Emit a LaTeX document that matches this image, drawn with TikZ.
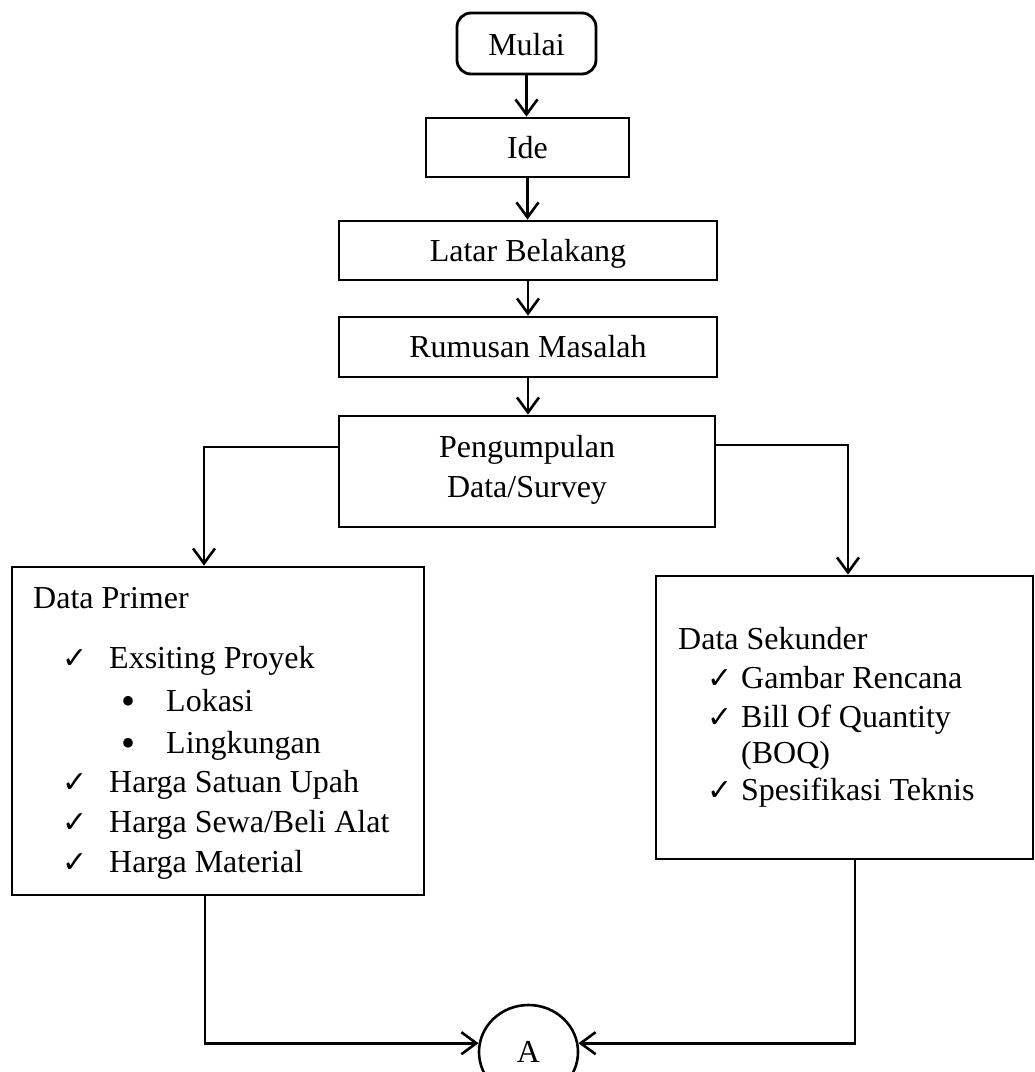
\documentclass[tikz,border=0pt]{standalone}
\usepackage{fontspec}
\setmainfont{Liberation Serif}
\newfontfamily\symfont{DejaVu Sans}
\usetikzlibrary{arrows.meta,shapes.geometric}
\begin{document}
\begin{tikzpicture}[x=1pt,y=-1pt,
  box/.style={draw, line width=2.8pt, rectangle, inner sep=0pt},
  txt/.style={inner sep=0pt, anchor=base, font=\fontsize{32}{38}\selectfont},
  txtl/.style={txt, anchor=base west},
  chk/.style={inner sep=0pt, anchor=base west, font=\symfont\fontsize{30}{34}\selectfont},
  bul/.style={inner sep=0pt, anchor=base west, font=\fontsize{40}{40}\selectfont},
  arr/.style={line width=2.6pt, -{Straight Barb[length=15pt,width=22pt]}},
  ln/.style={line width=2.6pt}]
\useasboundingbox (0,0) rectangle (1035,1072);
% boxes
\node[box, rounded corners=14pt, minimum width=139pt, minimum height=61pt] (mulai) at (526.5,43.5) {};
\node[txt] (mulait) at (526.5,55) {Mulai};
\node[box, minimum width=203pt, minimum height=59pt] (ide) at (527.5,147.5) {};
\node[txt] (idet) at (527.5,158) {Ide};
\node[box, minimum width=378pt, minimum height=59pt] (latar) at (528,250.5) {};
\node[txt] (latart) at (528,261) {Latar Belakang};
\node[box, minimum width=378pt, minimum height=60pt] (rumusan) at (528,347) {};
\node[txt] (rumusant) at (528,357.5) {Rumusan Masalah};
\node[box, minimum width=376pt, minimum height=111pt] (peng) at (527,471.5) {};
\node[txt] (pengt1) at (527,457) {Pengumpulan};
\node[txt] (pengt2) at (527,497) {Data/Survey};
\node[box, minimum width=412pt, minimum height=328pt] (dp) at (218,731) {};
\node[box, minimum width=377pt, minimum height=283pt] (ds) at (844.5,717.5) {};
\node[draw, ellipse, line width=2.6pt, minimum width=99pt, minimum height=94pt, inner sep=0pt, font=\fontsize{32}{38}\selectfont] (a) at (528.5,1052) {A};
% Data Primer text
\node[txtl] (dpt) at (33,608) {Data Primer};
\node[chk] (c1) at (62,668) {✓};
\node[txtl] (t1) at (109,668) {Exsiting Proyek};
\node[bul] (b1) at (121,714) {•};
\node[txtl] (t2) at (166,711) {Lokasi};
\node[bul] (b2) at (121,756) {•};
\node[txtl] (t3) at (166,753) {Lingkungan};
\node[chk] (c2) at (62,792) {✓};
\node[txtl] (t4) at (109,792) {Harga Satuan Upah};
\node[chk] (c3) at (62,832) {✓};
\node[txtl] (t5) at (109,832) {Harga Sewa/Beli Alat};
\node[chk] (c4) at (62,872) {✓};
\node[txtl] (t6) at (109,872) {Harga Material};
% Data Sekunder text
\node[txtl] (dst) at (678,649) {Data Sekunder};
\node[chk] (c5) at (707,688) {✓};
\node[txtl] (s1) at (741,688) {Gambar Rencana};
\node[chk] (c6) at (707,727) {✓};
\node[txtl] (s2) at (741,727) {Bill Of Quantity};
\node[txtl] (s3) at (741,763) {(BOQ)};
\node[chk] (c7) at (707,800) {✓};
\node[txtl] (s4) at (741,800) {Spesifikasi Teknis};
% connectors
\draw[arr] (mulai.south) -- (mulai.south |- ide.north);
\draw[arr] (ide.south) -- (ide.south |- latar.north);
\draw[arr] (latar.south) -- (rumusan.north);
\draw[arr] (rumusan.south) -- (rumusan.south |- peng.north);
\draw[arr] ([yshift=24.5pt]peng.west) -| ([xshift=-14pt]dp.north);
\draw[arr] ([yshift=26.5pt]peng.east) -| ([xshift=3.5pt]ds.north);
\draw[arr] ([xshift=-13pt]dp.south) |- (a.170);
\draw[arr] ([xshift=10.5pt]ds.south) |- (a.10);
\end{tikzpicture}
\end{document}
